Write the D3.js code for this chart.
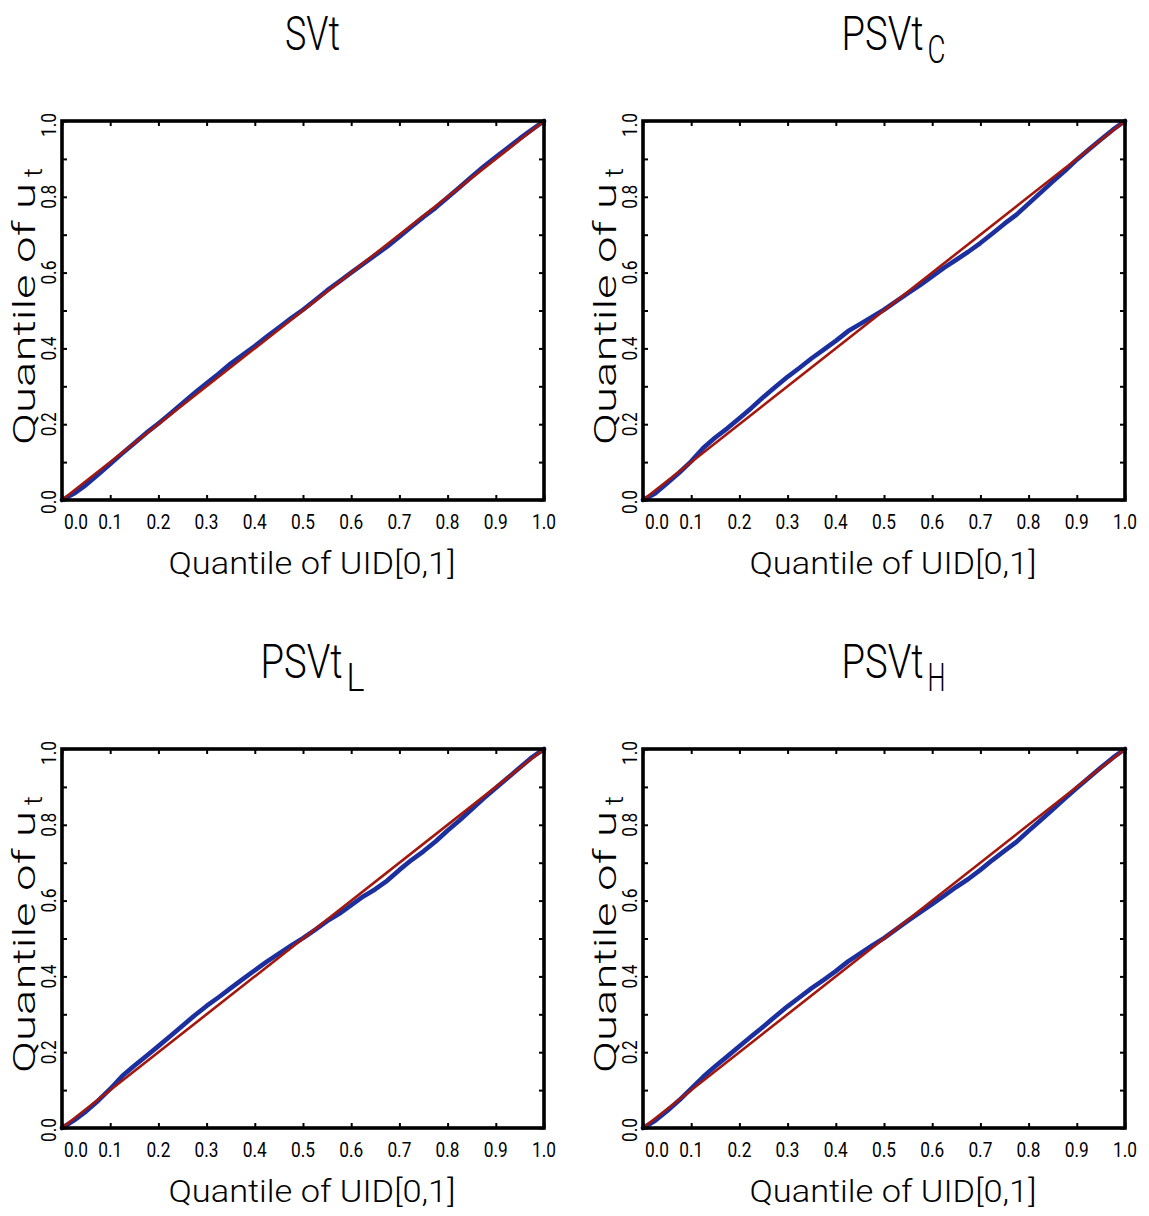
<!DOCTYPE html>
<html><head><meta charset="utf-8">
<script src="https://cdn.jsdelivr.net/npm/d3@7"></script>
<style>body{margin:0;background:#fff}</style>
</head><body>
<svg id="c" width="1149" height="1216"></svg>
<script>
// Quantiles of UID[0,1] (x) and empirical quantiles of u_t (y) per model
const uidQ = [0,0.025,0.05,0.075,0.1,0.125,0.15,0.175,0.2,0.225,0.25,0.275,0.3,0.325,0.35,0.375,0.4,0.425,0.45,0.475,0.5,0.525,0.55,0.575,0.6,0.625,0.65,0.675,0.7,0.725,0.75,0.775,0.8,0.825,0.85,0.875,0.9,0.925,0.95,0.975,1];
const qSVt   = [0,0.017,0.040,0.067,0.095,0.123,0.150,0.177,0.202,0.228,0.255,0.282,0.308,0.333,0.360,0.383,0.406,0.431,0.455,0.479,0.502,0.527,0.553,0.576,0.600,0.623,0.646,0.669,0.695,0.721,0.747,0.771,0.798,0.825,0.853,0.880,0.905,0.929,0.954,0.977,1];
const qPSVtC = [0,0.017,0.044,0.072,0.102,0.137,0.165,0.189,0.216,0.243,0.272,0.299,0.325,0.349,0.374,0.397,0.420,0.445,0.464,0.483,0.502,0.524,0.546,0.567,0.590,0.613,0.634,0.655,0.678,0.703,0.729,0.753,0.782,0.811,0.840,0.868,0.898,0.925,0.951,0.977,1];
const qPSVtL = [0,0.020,0.044,0.072,0.103,0.137,0.164,0.190,0.216,0.243,0.270,0.297,0.322,0.345,0.369,0.393,0.416,0.439,0.460,0.481,0.501,0.523,0.546,0.565,0.588,0.611,0.630,0.653,0.681,0.707,0.730,0.756,0.785,0.812,0.841,0.870,0.897,0.924,0.951,0.978,1];
const qPSVtH = [0,0.019,0.045,0.073,0.104,0.135,0.163,0.189,0.216,0.242,0.268,0.295,0.321,0.345,0.369,0.391,0.414,0.439,0.460,0.481,0.501,0.524,0.547,0.569,0.591,0.613,0.636,0.657,0.681,0.707,0.731,0.755,0.784,0.812,0.840,0.869,0.897,0.924,0.951,0.977,1];
const refLine = [0,1];
const titlesMain = ["SVt","PSVt","PSVt","PSVt"];
const titlesSub  = ["","C","L","H"];
const xTickVals = [0,0.1,0.2,0.3,0.4,0.5,0.6,0.7,0.8,0.9,1.0];
const yTickLabelVals = [0,0.2,0.4,0.6,0.8,1.0];
const xTitle = "Quantile of UID[0,1]";
const yTitleMain = "Quantile of u", yTitleSub = "t";

const series = [qSVt,qPSVtC,qPSVtL,qPSVtH];
const panelPos = [[62,121],[643,121],[62,749],[643,749]];
const W = 482, H = 379;
const FONT = "Roboto, 'Liberation Sans', sans-serif";
const svg = d3.select("#c");

// place text at (x,y) (start anchor) horizontally scaled to a target width
function fitText(parent, str, x, y, size, targetW, weight, rot){
  const t = parent.append("text").attr("font-family",FONT).attr("font-size",size)
    .attr("font-weight",weight||400).text(str);
  const w = t.node().getComputedTextLength();
  const s = targetW / w;
  t.attr("transform",`translate(${x},${y})${rot?` rotate(${rot})`:""} scale(${s},1)`);
  return t;
}

series.forEach((ys,i)=>{
  const [px,py] = panelPos[i];
  const g = svg.append("g").attr("transform",`translate(${px},${py})`);
  const x = d3.scaleLinear().domain([0,1]).range([0,W]);
  const y = d3.scaleLinear().domain([0,1]).range([H,0]);

  // blue QQ line
  const line = d3.line().x(d=>x(d[0])).y(d=>y(d[1]));
  g.append("path").datum(uidQ.map((u,k)=>[u,ys[k]]))
    .attr("d",line).attr("fill","none").attr("stroke","#1c2f9e")
    .attr("stroke-width",4.6).attr("stroke-linejoin","round").attr("stroke-linecap","round");
  // red 45-degree line
  g.append("path").datum(refLine.map(v=>[v,v]))
    .attr("d",line).attr("fill","none").attr("stroke","#a3170c").attr("stroke-width",2.6);

  // ticks (inward on all four sides)
  const tk = (a)=>a.tickValues(xTickVals).tickSize(-5).tickFormat("");
  const axes = [
    [d3.axisBottom(x),`translate(0,${H})`],
    [d3.axisTop(x),`translate(0,0)`],
    [d3.axisLeft(y),`translate(0,0)`],
    [d3.axisRight(y),`translate(${W},0)`]
  ];
  axes.forEach(([a,t])=>{
    const ag = g.append("g").attr("transform",t).call(tk(a));
    ag.select(".domain").remove();
    ag.selectAll("line").attr("stroke","#000").attr("stroke-width",2);
  });
  g.append("rect").attr("x",0).attr("y",0).attr("width",W).attr("height",H)
    .attr("fill","none").attr("stroke","#000").attr("stroke-width",3.6);

  // x tick labels
  xTickVals.forEach(d=>{
    fitText(g, d.toFixed(1), x(d)+(d===0?14:0)-12, H+29, 20, 24, 400);
  });
  // y tick labels (rotated, reading upward)
  yTickLabelVals.forEach(d=>{
    const c = y(d)+(d===0?2:d===1?4:0);
    fitText(g, d.toFixed(1), -6, c+12, 21, 24, 400, -90);
  });

  // x title
  fitText(g, xTitle, W/2+9-143.5, H+74, 32, 287, 300);
  // y title (rotated) with subscript
  fitText(g, yTitleMain, -27, H-55, 32, 262, 300, -90);
  fitText(g, yTitleSub, -20, H-55-268, 25, 9, 300, -90);

  // panel title
  const mainW = titlesMain[i]==="SVt"?55:82, subW = titlesSub[i]?22:0;
  const cx = 250.5, start = cx-(mainW+subW)/2;
  fitText(g, titlesMain[i], start, -71, 48, mainW, 300);
  if(titlesSub[i]){
    fitText(g, titlesSub[i], start+mainW+4, -58, 38, 18, 300);
  }
});
</script>
</body></html>
